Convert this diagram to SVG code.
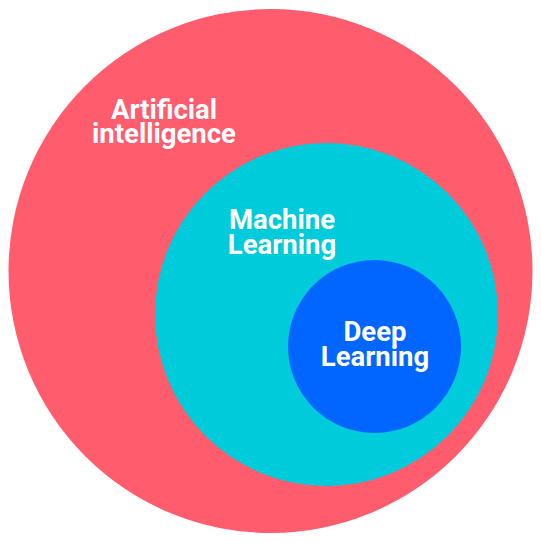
<svg xmlns="http://www.w3.org/2000/svg" width="541" height="543" viewBox="0 0 541 543">
<style>
text{font-family:Roboto,"Liberation Sans",sans-serif;font-weight:700;font-size:27.5px;fill:#fff;text-anchor:middle}
</style>
<rect width="541" height="543" fill="#fff"/>
<g id="ai"><circle cx="270.5" cy="271" r="262" fill="#FF5C6E"/>
<text x="164" y="119">Artificial</text><text x="164" y="143">intelligence</text></g>
<g id="ml"><circle cx="326.5" cy="314.5" r="171.5" fill="#00CBDB"/>
<text x="282" y="229">Machine</text><text x="282" y="254">Learning</text></g>
<g id="dl"><circle cx="374.5" cy="346.5" r="86.5" fill="#0066FF"/>
<text x="375" y="341">Deep</text><text x="375" y="366">Learning</text></g>
<g id="connectors"/>
</svg>
